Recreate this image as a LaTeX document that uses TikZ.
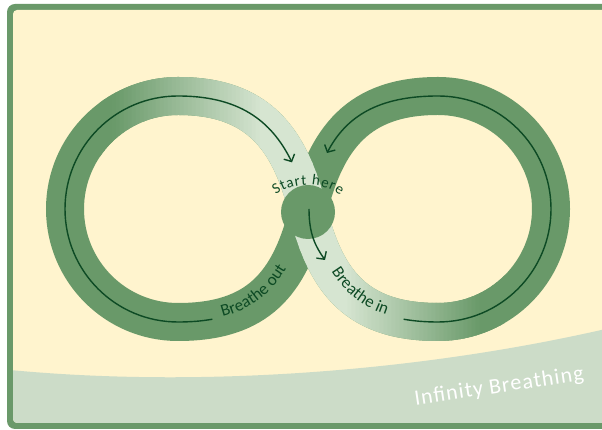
\documentclass[tikz,border=0pt]{standalone}
\usepackage{fontspec}
\setmainfont{Carlito}
\usetikzlibrary{arrows.meta,decorations.text}
\definecolor{cream}{HTML}{FFF4CE}
\definecolor{framegreen}{HTML}{6A996A}
\definecolor{banddark}{HTML}{699969}
\definecolor{bandlight}{HTML}{D6E5D1}
\definecolor{sage}{HTML}{CCDCC8}
\definecolor{ink}{HTML}{0D4A24}
\def\lightseg{(65,221) arc[start angle=180,end angle=90,radius=113]
  .. controls (258,334) and (289.85,291.75) .. (308,219)
  .. controls (326.15,146.25) and (358,108) .. (438,108)
  arc[start angle=270,end angle=360,radius=113]}
\begin{document}
\begin{tikzpicture}[x=1pt,y=1pt,
  band/.style={line width=38pt},
  guide/.style={ink, line width=1.4pt, -{Straight Barb[length=5.5pt,width=12pt]}},
  bandtext/.style={decorate, decoration={text along path, text color=ink}}]
\useasboundingbox (0,0) rectangle (602,430);
\fill[white] (0,0) rectangle (602,430);
% frame
\fill[framegreen, rounded corners=8pt] (7,1) rectangle (620,426);
\fill[cream, rounded corners=4pt] (13,7) rectangle (614,420);
\begin{scope}
  \clip[rounded corners=4pt] (13,7) rectangle (614,420);
  \fill[sage] (10,60) .. controls (200,42) and (420,58) .. (610,102) -- (610,0) -- (10,0) -- cycle;
\end{scope}
% whole figure eight, dark
\draw[band, banddark] (65,221) arc[start angle=180,end angle=90,radius=113]
  .. controls (258,334) and (289.85,291.75) .. (308,219)
  .. controls (326.15,146.25) and (358,108) .. (438,108)
  arc[start angle=270,end angle=450,radius=113]
  .. controls (358,334) and (326.15,291.75) .. (308,219)
  .. controls (289.85,146.25) and (258,108) .. (178,108)
  arc[start angle=270,end angle=180,radius=113] -- cycle;
% light diagonal band with gradient along x
\foreach \x in {100,104,...,500}{
  \pgfmathtruncatemacro\f{100*max(0,min(1,min((\x-110)/150,(480-\x)/135)))}
  \colorlet{stripcol}{bandlight!\f!banddark}
  \begin{scope}
    \clip (\x-0.5,0) rectangle (\x+4.5,430);
    \draw[band, stripcol] \lightseg;
  \end{scope}
}
% centre disc
\node[circle, fill=banddark, minimum size=54pt, inner sep=0pt] (hub) at (308,218) {};
% guide arrows
\draw[guide] (212.4,110.8) .. controls (202.19,108.95) and (190.75,108) .. (178,108)
  arc[start angle=270,end angle=90,radius=113]
  .. controls (238,334) and (271,310.23) .. (291.98,267.66);
\draw[guide] (403.6,110.8) .. controls (413.81,108.95) and (425.25,108) .. (438,108)
  arc[start angle=270,end angle=450,radius=113]
  .. controls (378,334) and (346,313.3) .. (327,277);
\draw[guide] (309,221) .. controls (309,195) and (316,183) .. (325,170);
% texts
\path[bandtext, decoration={text={|\fontsize{17pt}{19pt}\selectfont|Breathe out}, text align={left indent=45pt}}]
  (178,108) .. controls (258,108) and (289.85,146.25) .. (308,219);
\path[bandtext, decoration={text={|\fontsize{17pt}{19pt}\selectfont|Breathe in}, text align={left indent=65pt}}]
  (308,219) .. controls (326.15,146.25) and (358,108) .. (438,108);
\path[bandtext, decoration={text={|\fontsize{15pt}{17pt}\selectfont|Start here}, text align=fit to path}]
  (275.57,235.08) arc[start angle=124,end angle=56,radius=58];
\node[text=white, font=\fontsize{22pt}{25pt}\selectfont\addfontfeatures{LetterSpace=5}, rotate=8.5, anchor=base, inner sep=0pt] (title) at (500,37.4) {Infinity Breathing};
\end{tikzpicture}
\end{document}
